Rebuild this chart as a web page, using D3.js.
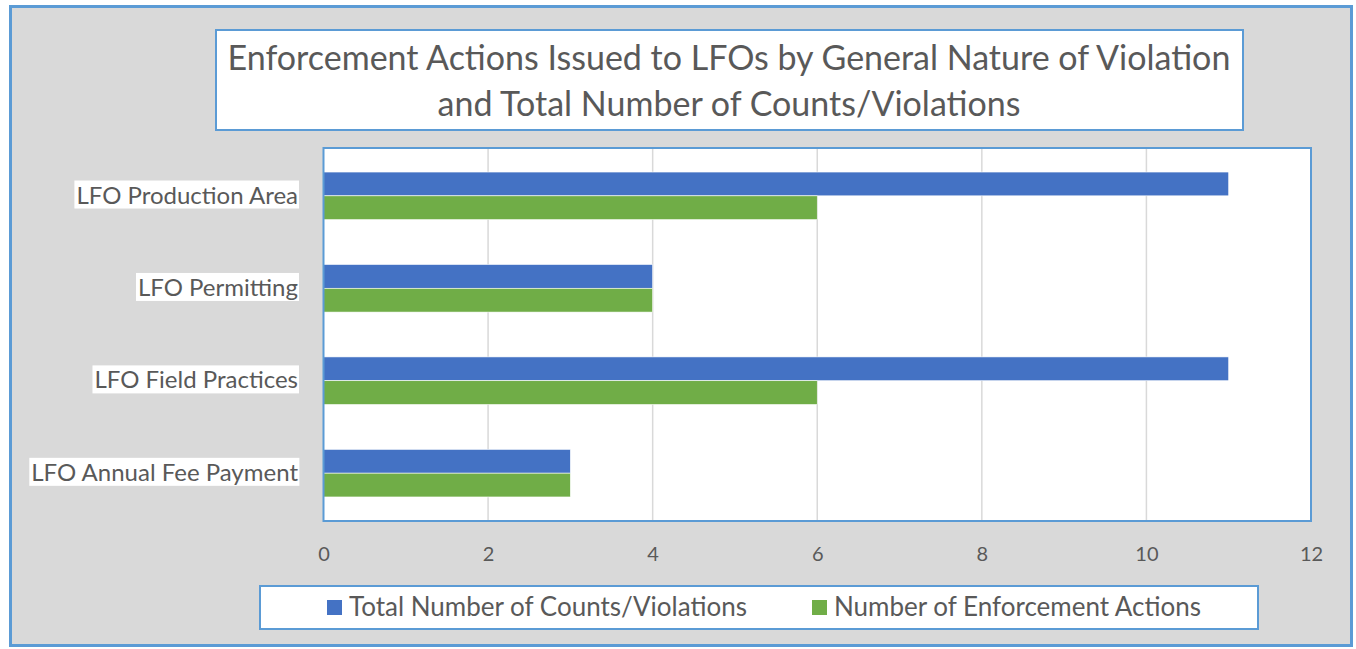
<!DOCTYPE html>
<html>
<head>
<meta charset="utf-8">
<script src="https://cdn.jsdelivr.net/npm/d3@7"></script>
<style>
  html, body { margin: 0; padding: 0; background: #fff; }
  svg { display: block; font-family: Lato, "Open Sans", sans-serif; }
</style>
</head>
<body>
<svg id="chart" width="1356" height="649"></svg>
<script>
// ===== Data =====
const categories = ["LFO Production Area", "LFO Permitting", "LFO Field Practices", "LFO Annual Fee Payment"];
const seriesNames = ["Total Number of Counts/Violations", "Number of Enforcement Actions"];
const totalCounts = [11, 4, 11, 3];
const enforcementActions = [6, 4, 6, 3];
const xTicks = [0, 2, 4, 6, 8, 10, 12];
const titleLines = ["Enforcement Actions Issued to LFOs by General Nature of Violation",
                    "and Total Number of Counts/Violations"];

// ===== Config =====
const BLUE = "#4472c4", GREEN = "#70ad47", FRAME = "#5b9bd5", GREY = "#595959";
const PLOT = { left: 323.5, right: 1311, top: 148, bottom: 521 };

const color = d3.scaleOrdinal().domain(seriesNames).range([BLUE, GREEN]);
const rows = categories.map((c, i) => ({ cat: c, values: [totalCounts[i], enforcementActions[i]] }));

const svg = d3.select("#chart");

// outer frame
svg.append("rect").attr("x", 10.5).attr("y", 6.5).attr("width", 1341).attr("height", 639)
  .attr("fill", "#d9d9d9").attr("stroke", FRAME).attr("stroke-width", 3);

// title box
svg.append("rect").attr("x", 216).attr("y", 30).attr("width", 1027).attr("height", 100)
  .attr("fill", "#fff").attr("stroke", FRAME).attr("stroke-width", 2);
svg.append("g").selectAll("text").data(titleLines).join("text")
  .attr("x", 729).attr("y", (d, i) => 70 + i * 46)
  .attr("text-anchor", "middle").attr("fill", GREY)
  .style("font-size", "34px").text(d => d);

// scales
const x = d3.scaleLinear().domain([0, 12]).range([PLOT.left, PLOT.right]);
const y = d3.scaleBand().domain(categories).range([PLOT.top, PLOT.bottom])
  .paddingInner(0.485).paddingOuter(0.26);
const ySub = d3.scaleBand().domain(seriesNames).range([0, y.bandwidth()]);

// plot area
svg.append("rect").attr("x", PLOT.left).attr("y", PLOT.top)
  .attr("width", PLOT.right - PLOT.left).attr("height", PLOT.bottom - PLOT.top)
  .attr("fill", "#fff");

// gridlines
svg.append("g").selectAll("line").data(xTicks.slice(1, -1)).join("line")
  .attr("x1", d => x(d)).attr("x2", d => x(d))
  .attr("y1", PLOT.top).attr("y2", PLOT.bottom)
  .attr("stroke", "#d9d9d9").attr("stroke-width", 1.5);

// bars
const groups = svg.append("g").selectAll("g").data(rows).join("g")
  .attr("transform", d => `translate(0,${y(d.cat)})`);
groups.selectAll("rect").data(d => d.values.map((v, i) => ({ key: seriesNames[i], v })))
  .join("rect")
  .attr("x", x(0)).attr("y", d => ySub(d.key))
  .attr("width", d => x(d.v) - x(0)).attr("height", ySub.bandwidth())
  .attr("fill", d => color(d.key))
  .attr("stroke", "#fff").attr("stroke-width", 0.6);

// plot border
svg.append("rect").attr("x", PLOT.left).attr("y", PLOT.top)
  .attr("width", PLOT.right - PLOT.left).attr("height", PLOT.bottom - PLOT.top)
  .attr("fill", "none").attr("stroke", FRAME).attr("stroke-width", 2);

// x axis labels
const xAxis = svg.append("g").attr("transform", `translate(0,${PLOT.bottom + 39.5})`)
  .call(d3.axisBottom(x).tickValues(xTicks).tickSize(0).tickPadding(0));
xAxis.select(".domain").remove();
xAxis.selectAll("text").attr("fill", GREY).attr("dy", 0)
  .style("font-size", "20px").style("font-family", "Lato, 'Open Sans', sans-serif");

// y axis labels with white backgrounds
const yAxis = svg.append("g").attr("transform", `translate(298,0)`)
  .call(d3.axisLeft(y).tickSize(0).tickPadding(0));
yAxis.select(".domain").remove();
yAxis.selectAll("text").attr("fill", GREY)
  .style("font-size", "24px").style("font-family", "Lato, 'Open Sans', sans-serif");
yAxis.selectAll(".tick").each(function () {
  const t = d3.select(this);
  const b = t.select("text").node().getBBox();
  t.insert("rect", "text").attr("x", b.x - 2).attr("y", b.y + 1)
    .attr("width", b.width + 3).attr("height", b.height - 1).attr("fill", "#fff");
});

// legend
svg.append("rect").attr("x", 260).attr("y", 586).attr("width", 998).attr("height", 43)
  .attr("fill", "#fff").attr("stroke", FRAME).attr("stroke-width", 2);
const legendX = [327, 812];
const items = svg.append("g").selectAll("g").data(seriesNames).join("g")
  .attr("transform", (d, i) => `translate(${legendX[i]},600)`);
items.append("rect").attr("width", 15).attr("height", 15).attr("fill", d => color(d));
items.append("text").attr("x", 22).attr("y", 16).attr("fill", GREY)
  .style("font-size", "26px").text(d => d);
</script>
</body>
</html>
